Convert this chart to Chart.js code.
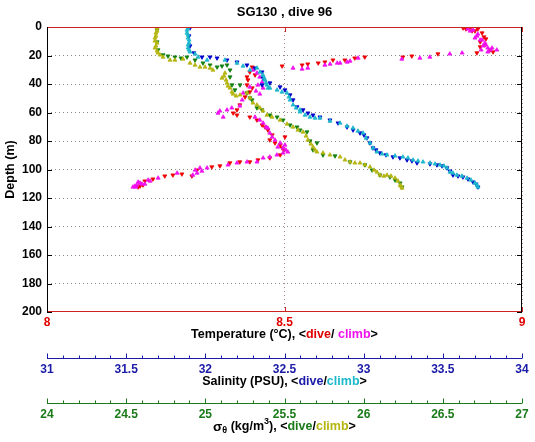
<!DOCTYPE html>
<html><head><meta charset="utf-8">
<script src="https://cdn.jsdelivr.net/npm/chart.js@4"></script>
<style>html,body{margin:0;padding:0;background:#fff}#wrap{width:535px;height:442px;position:relative}</style>
</head><body><div id="wrap"><canvas id="c"></canvas></div>
<script>
// ---------- data (depth in m, values in axis units) ----------
const tempTicks = [8, 8.5, 9];
const salTicks = [31, 31.5, 32, 32.5, 33, 33.5, 34];
const sigTicks = [24, 24.5, 25, 25.5, 26, 26.5, 27];
const depthTicks = [0, 20, 40, 60, 80, 100, 120, 140, 160, 180, 200];

const tempDiveT = [8.876,8.891,8.907,8.895,8.916,8.920,8.912,8.922,8.912,8.933,8.939,8.882,8.901,8.924,
  8.905,8.823,8.768,8.749,8.669,8.648,8.627,8.602,8.585,8.571,8.549,8.537,8.495,
  8.432,8.427,8.438,8.421,8.423,8.421,8.432,8.427,8.417,8.406,8.400,8.392,8.400,
  8.427,8.442,8.453,8.465,8.474,8.501,8.480,8.491,8.499,8.491,8.469,8.444,8.427,8.406,8.385,8.364,8.347,8.316,8.305,8.284,8.265,8.248,8.223,8.206,8.202,8.192,
  8.459,8.469,8.495,8.196];
const tempDiveD = [0.7,0.7,1.4,2.8,4.2,7.0,10.5,12.6,14.0,16.1,17.5,1.4,2.8,8.4,
  18.2,18.9,20.4,21.1,21.1,21.8,23.2,23.2,24.6,25.3,26.0,26.7,27.4,
  28.1,31.6,33.7,35.1,37.2,40.7,42.8,45.6,49.1,54.7,58.2,60.4,61.8,
  63.2,65.3,68.8,72.3,75.8,77.2,81.4,82.8,86.3,89.8,91.9,93.3,94.7,94.7,95.4,97.5,98.2,100.4,104.6,103.2,103.9,104.6,106.7,108.1,110.9,112.3,
  70.2,79.3,84.9,111.6];

const tempClimbT = [8.886,8.897,8.907,8.901,8.912,8.922,8.918,8.928,8.933,8.947,8.928,8.891,8.905,8.916,8.924,8.937,8.914,
  8.874,8.848,8.806,8.785,8.747,8.655,8.638,8.632,8.617,8.611,8.596,8.585,8.549,8.537,8.518,
  8.434,8.442,8.448,8.453,8.444,8.455,8.440,8.448,8.427,8.413,8.411,8.406,8.379,8.360,8.371,8.364,8.389,
  8.455,8.461,8.469,8.480,8.486,8.497,8.507,8.497,8.484,8.469,8.455,8.442,8.421,8.400,8.381,8.337,8.322,8.312,8.326,8.316,8.307,8.274,8.234,8.213,8.217,8.206,8.196,8.189,8.185,8.181,
  8.438,8.448,8.465,8.474,8.491,8.501,8.503,8.192,8.200,8.187];
const tempClimbD = [1.4,2.1,4.9,7.7,9.1,11.2,13.3,14.7,16.1,16.1,17.5,2.8,6.3,9.1,12.6,14.7,16.1,
  18.2,18.9,21.1,21.8,22.5,21.8,23.9,24.6,25.3,25.3,26.0,26.7,28.8,29.5,28.8,
  30.2,32.3,35.1,38.6,40.7,42.8,44.9,47.0,42.1,46.3,51.2,55.4,58.2,60.4,63.2,58.9,56.8,
  67.4,70.2,74.4,79.3,84.2,84.9,87.7,88.4,89.8,91.2,91.9,94.7,94.7,95.4,96.8,98.9,98.9,100.4,101.1,102.5,103.9,102.5,106.0,107.4,108.1,110.2,109.5,110.9,111.6,112.3,
  63.2,65.3,70.9,77.2,81.4,82.8,86.3,108.8,110.2,112.3];

const salDiveS = [31.903,31.897,31.903,31.928,31.979,32.030,32.074,32.137,32.200,32.263,32.314,
  32.358,32.364,32.358,32.408,32.472,32.503,32.535,32.554,32.617,32.680,32.787,32.895,32.977,
  33.021,33.059,33.103,33.185,33.274,33.337,33.463,33.526,33.564,33.627,33.691,33.722,
  32.579,32.648,32.724,32.838,32.933,33.002,33.040,33.078,33.141,33.229,33.305,33.419,33.495,33.545,33.596,33.659,33.710];
const salDiveD = [0.7,6.3,13.3,18.2,21.1,21.1,21.8,23.2,24.6,26.7,28.8,
  31.6,35.8,40.7,39.3,42.1,44.2,47.7,51.2,58.2,61.8,65.3,70.2,74.4,
  77.9,84.9,88.4,91.2,93.3,95.4,96.8,98.9,103.9,105.3,108.8,112.3,
  56.1,60.4,63.2,67.4,72.3,75.8,81.4,86.3,89.8,91.9,94.0,96.1,97.5,101.1,104.6,106.7,110.2];

const salClimbS = [31.891,31.884,31.891,31.897,31.891,31.903,31.935,31.954,32.011,32.124,32.200,32.238,
  32.282,32.326,32.345,32.364,32.377,32.389,32.396,32.453,32.516,32.535,32.554,32.598,32.661,32.724,
  32.851,32.933,32.996,33.040,33.084,33.147,33.248,33.312,33.375,33.482,33.526,33.545,33.589,33.653,33.703,33.722,
  32.598,32.630,32.693,32.787,32.895,32.964,33.015,33.059,33.116,33.198,33.280,33.343,33.419,33.451,33.507,33.564,33.621,33.678,33.716,
  31.884,31.891,31.897,31.891,31.897,32.371,32.383,32.408,32.484,32.528,32.573];
const salClimbD = [0.7,4.2,7.7,11.2,14.7,17.5,18.9,21.1,23.2,23.2,25.3,27.4,
  30.2,28.8,31.6,33.7,37.2,40.7,42.8,44.2,46.3,51.2,54.7,58.2,63.2,63.9,
  67.4,70.9,74.4,81.4,87.7,89.8,91.2,93.3,94.7,96.8,98.9,101.8,103.9,106.0,109.5,112.3,
  59.6,61.8,63.9,66.0,69.5,73.0,77.9,84.9,89.1,90.5,91.9,94.0,95.4,96.1,97.5,102.5,104.6,107.4,110.9,
  2.1,5.6,9.1,12.6,16.1,35.8,39.3,42.8,45.6,49.1,56.8];

const sigDiveG = [24.695,24.695,24.701,24.733,24.764,24.808,24.884,24.935,24.985,25.030,25.074,
  25.137,25.156,25.156,25.168,25.187,25.219,25.263,25.282,25.326,25.408,25.491,25.579,25.642,25.661,
  25.680,25.743,25.914,26.103,26.198,26.242,
  25.535,25.598,25.705,25.819,26.008,26.053,26.166,26.230,25.295,25.358,25.453,24.846,25.105];
const sigDiveD = [2.1,10.5,16.1,19.6,20.4,21.1,21.1,23.2,25.3,26.7,28.1,
  26.7,30.2,35.1,40.7,44.2,40.7,46.3,49.8,56.8,61.8,65.3,70.2,73.7,80.0,
  86.3,89.8,94.7,103.9,107.4,112.3,
  68.8,72.3,81.4,90.5,96.8,100.4,105.3,109.5,51.2,58.2,63.2,21.8,27.4];

const sigClimbG = [24.695,24.688,24.682,24.695,24.682,24.701,24.733,24.777,24.859,24.903,24.966,25.030,25.048,
  25.124,25.105,25.137,25.156,25.168,25.219,25.263,25.301,25.345,25.389,25.472,25.554,25.617,25.648,
  25.680,25.705,25.743,25.851,25.914,25.977,26.040,26.084,26.103,26.147,26.198,26.230,26.242,
  25.516,25.585,25.636,25.667,25.693,25.787,25.882,25.945,26.008,26.065,26.128,26.173,26.217,26.236,
  25.282,25.326,25.364,25.421,25.118,25.131,25.143,25.175,25.194,
  24.695,24.688,24.682,24.688,24.695,24.714,24.808,24.935,24.998];
const sigClimbD = [0.7,4.2,7.7,11.2,14.7,18.2,21.1,23.2,22.5,25.3,28.1,28.8,30.2,
  32.3,35.8,39.3,42.8,45.6,47.7,46.3,53.3,56.8,61.8,65.3,70.2,73.7,79.3,
  84.2,87.7,88.4,91.2,94.7,95.4,98.2,101.8,103.9,103.9,106.0,110.9,113.0,
  68.1,72.3,76.5,82.1,86.3,89.8,93.3,95.4,96.8,100.4,104.6,104.6,108.1,111.6,
  49.8,54.7,58.9,63.2,34.4,37.2,41.4,47.0,48.4,
  2.8,6.3,9.8,13.3,16.8,19.6,23.2,26.7,28.1];

const chartTitle = 'SG130 , dive 96';

// ---------- styles ----------
const FONT = '"Liberation Sans", Arial, Helvetica, sans-serif';
const C = {
  tDive:'#ee0000', tClimb:'#f010f0', sDive:'#0000cc', sClimb:'#1cb8cc', gDive:'#108010', gClimb:'#b5b512',
  tAxis:'#e00000', tLine:'#cc2222', sAxis:'#1a1aa8', gAxis:'#1a7a1a'
};
const TS = 12.5; // axis title size
const pts = (xs, ds) => xs.map((v, i) => ({x: v, y: ds[i]}));
function ds(label, xs, ds_, color, axis, dive, order) {
  return {label, data: pts(xs, ds_), xAxisID: axis, yAxisID: 'y', order,
    pointStyle: 'triangle', rotation: dive ? 180 : 0, pointRadius: 2.3,
    backgroundColor: color, borderColor: color, borderWidth: 0.8, showLine: false};
}
const fmt = v => String(+Number(v).toFixed(2));

function drawRich(ctx, parts, cx, cy) {
  let total = 0;
  parts.forEach(p => { ctx.font = `bold ${p.s || TS}px ${FONT}`; p.w = ctx.measureText(p.t).width; total += p.w; });
  let x = cx - total / 2;
  ctx.textAlign = 'left'; ctx.textBaseline = 'middle';
  parts.forEach(p => { ctx.font = `bold ${p.s || TS}px ${FONT}`; ctx.fillStyle = p.c; ctx.fillText(p.t, x, cy + (p.dy || 0)); x += p.w; });
}

const decor = {
  id: 'decor',
  afterDraw(chart) {
    const ctx = chart.ctx, a = chart.chartArea, S = chart.scales;
    ctx.save();
    ctx.lineWidth = 1;
    ctx.strokeStyle = '#000';
    depthTicks.forEach(d => {
      const y = Math.round(S.y.getPixelForValue(d)) + 0.5;
      ctx.beginPath(); ctx.moveTo(a.left, y); ctx.lineTo(a.left + 5, y);
      ctx.moveTo(a.right, y); ctx.lineTo(a.right - 5, y); ctx.stroke();
    });
    ctx.strokeStyle = C.tLine;
    tempTicks.forEach(t => {
      const x = Math.round(S.x.getPixelForValue(t)) + 0.5;
      ctx.beginPath(); ctx.moveTo(x, a.top); ctx.lineTo(x, a.top + 5);
      ctx.moveTo(x, a.bottom); ctx.lineTo(x, a.bottom - 5); ctx.stroke();
    });
    ctx.strokeStyle = C.tLine;
    ctx.beginPath(); ctx.moveTo(a.left, a.top + 0.5); ctx.lineTo(a.right, a.top + 0.5);
    ctx.moveTo(a.left, a.bottom - 0.5); ctx.lineTo(a.right, a.bottom - 0.5); ctx.stroke();
    ctx.strokeStyle = '#000';
    ctx.beginPath(); ctx.moveTo(a.left + 0.5, a.top); ctx.lineTo(a.left + 0.5, a.bottom);
    ctx.moveTo(a.right - 0.5, a.top); ctx.lineTo(a.right - 0.5, a.bottom); ctx.stroke();
    [[S.xS, C.sAxis, 31, 34], [S.xG, C.gAxis, 24, 27]].forEach(([sc, col, lo, hi]) => {
      const y = Math.round(sc.top) + 1.5;
      ctx.strokeStyle = col;
      ctx.beginPath(); ctx.moveTo(sc.left, y); ctx.lineTo(sc.right, y);
      for (let k = 0; k <= Math.round((hi - lo) * 10); k++) {
        const x = Math.round(sc.getPixelForValue(lo + k / 10)) + 0.5;
        const len = (k % 5 === 0) ? 5 : 3;
        ctx.moveTo(x, y); ctx.lineTo(x, y - len);
      }
      ctx.stroke();
    });
    const cx = (a.left + a.right) / 2;
    drawRich(ctx, [{t:'Temperature (°C), <', c:'#000'}, {t:'dive', c:C.tAxis}, {t:'/ ', c:'#000'}, {t:'climb', c:C.tClimb}, {t:'>', c:'#000'}], cx, S.x.top + 23);
    drawRich(ctx, [{t:'Salinity (PSU), <', c:'#000'}, {t:'dive', c:C.sAxis}, {t:'/', c:'#000'}, {t:'climb', c:C.sClimb}, {t:'>', c:'#000'}], cx, S.xS.top + 25);
    drawRich(ctx, [{t:'σ', c:'#000', s:13.5}, {t:'θ', c:'#000', s:9, dy:4}, {t:' (kg/m', c:'#000'}, {t:'3', c:'#000', s:9, dy:-5}, {t:'), <', c:'#000'}, {t:'dive', c:C.gAxis}, {t:'/', c:'#000'}, {t:'climb', c:C.gClimb}, {t:'>', c:'#000'}], cx, S.xG.top + 25);
    ctx.restore();
  }
};

const tickFont = {family: FONT, size: 12, weight: 'bold'};
new Chart(document.getElementById('c'), {
  type: 'scatter',
  data: {datasets: [
    ds('sigma climb', sigClimbG, sigClimbD, C.gClimb, 'xG', false, 0),
    ds('sigma dive', sigDiveG, sigDiveD, C.gDive, 'xG', true, 1),
    ds('salinity climb', salClimbS, salClimbD, C.sClimb, 'xS', false, 2),
    ds('salinity dive', salDiveS, salDiveD, C.sDive, 'xS', true, 3),
    ds('temperature climb', tempClimbT, tempClimbD, C.tClimb, 'x', false, 4),
    ds('temperature dive', tempDiveT, tempDiveD, C.tDive, 'x', true, 5)
  ]},
  options: {
    responsive: true, maintainAspectRatio: false, animation: false,
    layout: {padding: {left: 0, right: 13, top: 0, bottom: 0}},
    plugins: {
      legend: {display: false}, tooltip: {enabled: false},
      title: {display: true, fullSize: false, text: chartTitle, color: '#000', font: {family: FONT, size: 13, weight: 'bold'}, padding: {top: 4.5, bottom: 6.9}}
    },
    scales: {
      y: {type: 'linear', position: 'left', reverse: true, min: 0, max: 200,
        afterFit: s => { s.width = 47; },
        afterBuildTicks: s => { s.ticks = depthTicks.map(v => ({value: v})); },
        ticks: {color: '#000', font: tickFont, padding: 5, callback: fmt},
        grid: {drawTicks: false, color: c => (c.tick && (c.tick.value === 0 || c.tick.value === 200)) ? 'rgba(0,0,0,0)' : '#8a8a8a'},
        border: {display: false, dash: [1, 3]},
        title: {display: true, text: 'Depth (m)', color: '#000', font: {family: FONT, size: TS, weight: 'bold'}, padding: {top: 3, bottom: 0}}
      },
      x: {type: 'linear', position: 'bottom', min: 8, max: 9, weight: 0,
        afterFit: s => { s.height = 45; },
        afterBuildTicks: s => { s.ticks = tempTicks.map(v => ({value: v})); },
        ticks: {color: C.tAxis, font: tickFont, padding: 3, autoSkip: false, maxRotation: 0, callback: fmt},
        grid: {drawTicks: false, color: '#b08888'},
        border: {display: false, dash: [1, 3]}
      },
      xS: {type: 'linear', position: 'bottom', min: 31, max: 34, weight: 1,
        afterFit: s => { s.height = 45; },
        afterBuildTicks: s => { s.ticks = salTicks.map(v => ({value: v})); },
        ticks: {color: C.sAxis, font: tickFont, padding: 5, autoSkip: false, maxRotation: 0, callback: fmt},
        grid: {drawOnChartArea: false, drawTicks: false},
        border: {display: false}
      },
      xG: {type: 'linear', position: 'bottom', min: 24, max: 27, weight: 2,
        afterFit: s => { s.height = 40; },
        afterBuildTicks: s => { s.ticks = sigTicks.map(v => ({value: v})); },
        ticks: {color: C.gAxis, font: tickFont, padding: 5.5, autoSkip: false, maxRotation: 0, callback: fmt},
        grid: {drawOnChartArea: false, drawTicks: false},
        border: {display: false}
      }
    }
  },
  plugins: [decor]
});
</script>
</body></html>
